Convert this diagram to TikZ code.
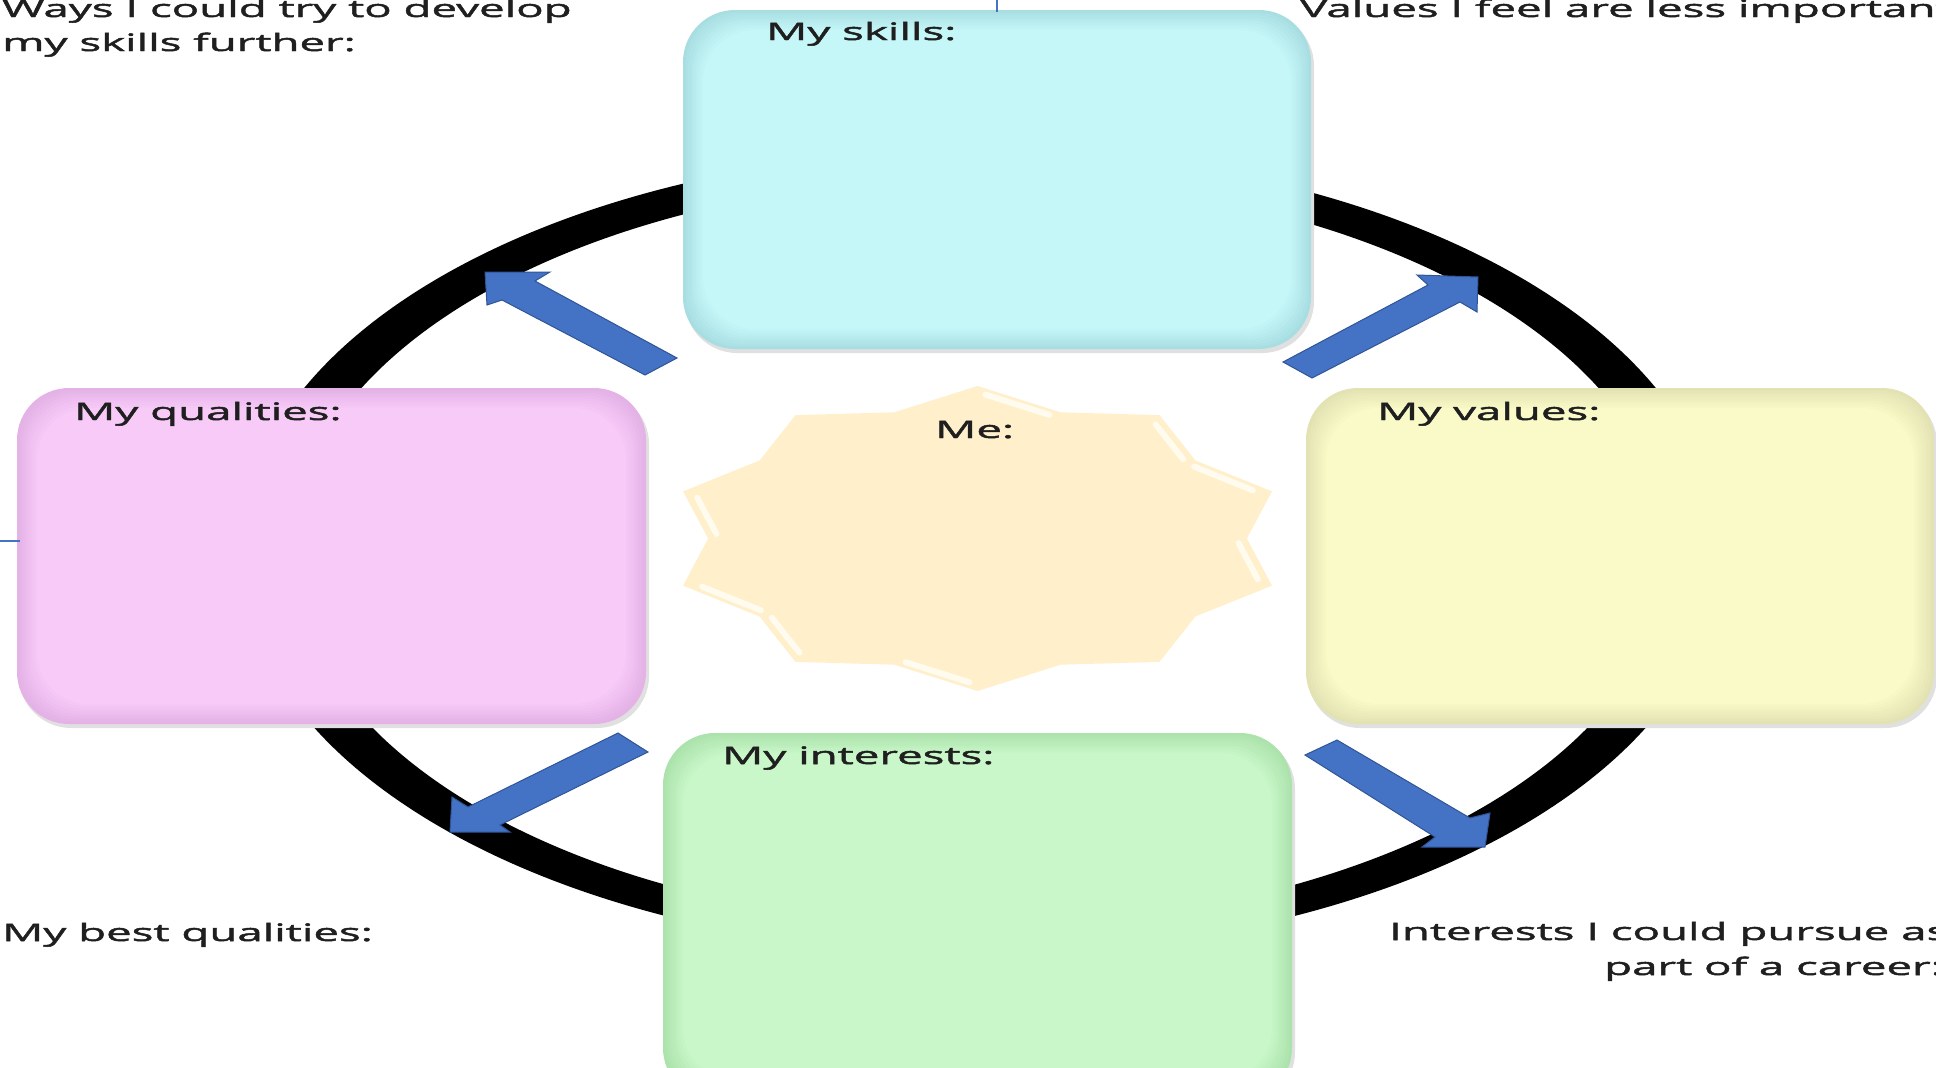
\documentclass[tikz,border=0pt]{standalone}
\usepackage{fontspec}
\usetikzlibrary{calc}
\newfontfamily\lbl{Open Sans}[FakeStretch=1.9,FakeBold=2]
\definecolor{arrowblue}{HTML}{4472C4}
\definecolor{arrowedge}{HTML}{2F5597}
\definecolor{skillsc}{HTML}{C6F7F8}\definecolor{skillsrim}{HTML}{A8DEE2}
\definecolor{qualc}{HTML}{F7CAF8}\definecolor{qualrim}{HTML}{E4B2E6}
\definecolor{valc}{HTML}{FAFAC9}\definecolor{valrim}{HTML}{E2E2B2}
\definecolor{intc}{HTML}{C9F7C9}\definecolor{intrim}{HTML}{ACE2AC}
\definecolor{starc}{HTML}{FFF0CB}
\definecolor{starhl}{HTML}{FFFBEE}
\newcommand{\softbox}[5]{%
  \fill[black!12,rounded corners=52pt] (#1+2,#2+4) rectangle (#3+3,#4+4);
  \foreach \i in {0,...,8}{%
    \pgfmathsetmacro\ins{\i*2.5}%
    \pgfmathsetmacro\mix{100-\i*12.5}%
    \fill[#5rim!\mix!#5c,rounded corners=52pt] (#1+\ins,#2+\ins) rectangle (#3-\ins,#4-\ins);
  }%
}
\begin{document}
\begin{tikzpicture}[x=1pt,y=-1pt,
  txt/.style={font=\lbl\fontsize{24pt}{34pt}\selectfont, inner sep=0pt, anchor=base west, text=black!88},
  blockarrow/.style={fill=arrowblue, draw=arrowedge, line width=1pt, line join=miter},
  hl/.style={draw=starhl, line width=6pt, line cap=round}]
\useasboundingbox (0,0) rectangle (1936,1068);
\clip (0,0) rectangle (1936,1068);
\fill[white] (0,0) rectangle (1936,1068);
% ring
\coordinate (rc) at (980,552);
\fill[black, even odd rule] (rc) ellipse [x radius=740, y radius=402] (rc) ellipse [x radius=688, y radius=374];
% block arrows
\fill[blockarrow] (485,272) -- (550,272) -- (535,281) -- (677,358) -- (645,375) -- (502,300) -- (487,305) -- cycle;
\fill[blockarrow] (1478,277) -- (1417,275) -- (1428,285) -- (1283,362) -- (1312,378) -- (1460,302) -- (1477,312) -- cycle;
\fill[blockarrow] (450,832) -- (452,797) -- (468,807) -- (618,733) -- (648,752) -- (500,825) -- (510,832) -- cycle;
\fill[blockarrow] (1485,847) -- (1490,813) -- (1470,818) -- (1337,740) -- (1305,755) -- (1435,837) -- (1422,847) -- cycle;
% boxes
\softbox{683}{10}{1311}{349}{skills}
\softbox{17}{388}{646}{724}{qual}
\softbox{1306}{388}{1934}{724}{val}
\softbox{663}{733}{1292}{1100}{int}
% star
\coordinate (c) at (977.5,538.5);
\foreach \k in {0,...,19}{%
  \pgfmathsetmacro\ang{90+18*\k}%
  \pgfmathsetmacro\rr{ifthenelse(mod(\k,2)==0,1,0.87)}%
  \coordinate (s\k) at ({977.5+309.6*\rr*cos(\ang)},{538.5-152.5*\rr*sin(\ang)});
  \coordinate (i\k) at ($(c)!0.96!(s\k)$);
}
\fill[starc] (s0) \foreach \k in {1,...,19}{ -- (s\k)} -- cycle;
\draw[hl] ($(i0)!0.1!(i19)$) -- ($(i0)!0.9!(i19)$);
\draw[hl] ($(i18)!0.1!(i17)$) -- ($(i18)!0.9!(i17)$);
\draw[hl] ($(i17)!0.1!(i16)$) -- ($(i17)!0.9!(i16)$);
\draw[hl] ($(i15)!0.1!(i14)$) -- ($(i15)!0.9!(i14)$);
\draw[hl] ($(i4)!0.1!(i5)$) -- ($(i4)!0.9!(i5)$);
\draw[hl] ($(i6)!0.1!(i7)$) -- ($(i6)!0.9!(i7)$);
\draw[hl] ($(i7)!0.1!(i8)$) -- ($(i7)!0.9!(i8)$);
\draw[hl] ($(i9)!0.1!(i10)$) -- ($(i9)!0.9!(i10)$);
% box titles
\node[txt] (tskills) at (766,40) {My skills:};
\node[txt] (tqual) at (74,420) {My qualities:};
\node[txt] (tval) at (1377,420) {My values:};
\node[txt] (tint) at (722,764) {My interests:};
\node[txt] (tme) at (935,438) {Me:};
% outer texts
\node[txt] (tways1) at (2,17) {Ways I could try to develop};
\node[txt] (tways2) at (2,51) {my skills further:};
\node[txt] (tless) at (1300,17) {Values I feel are less important:};
\node[txt] (tbest) at (2,941) {My best qualities:};
\node[txt] (tpur1) at (1389,940) {Interests I could pursue as};
\node[txt] (tpur2) at (1604,975) {part of a career:};
% small connector stubs
\coordinate (stubA) at (997,0); \coordinate (stubB) at (997,12);
\coordinate (stubC) at (0,541); \coordinate (stubD) at (20,541);
\draw[arrowblue, line width=2.5pt] (stubA) -- (stubB);
\draw[arrowblue, line width=2.5pt] (stubC) -- (stubD);
\end{tikzpicture}
\end{document}
